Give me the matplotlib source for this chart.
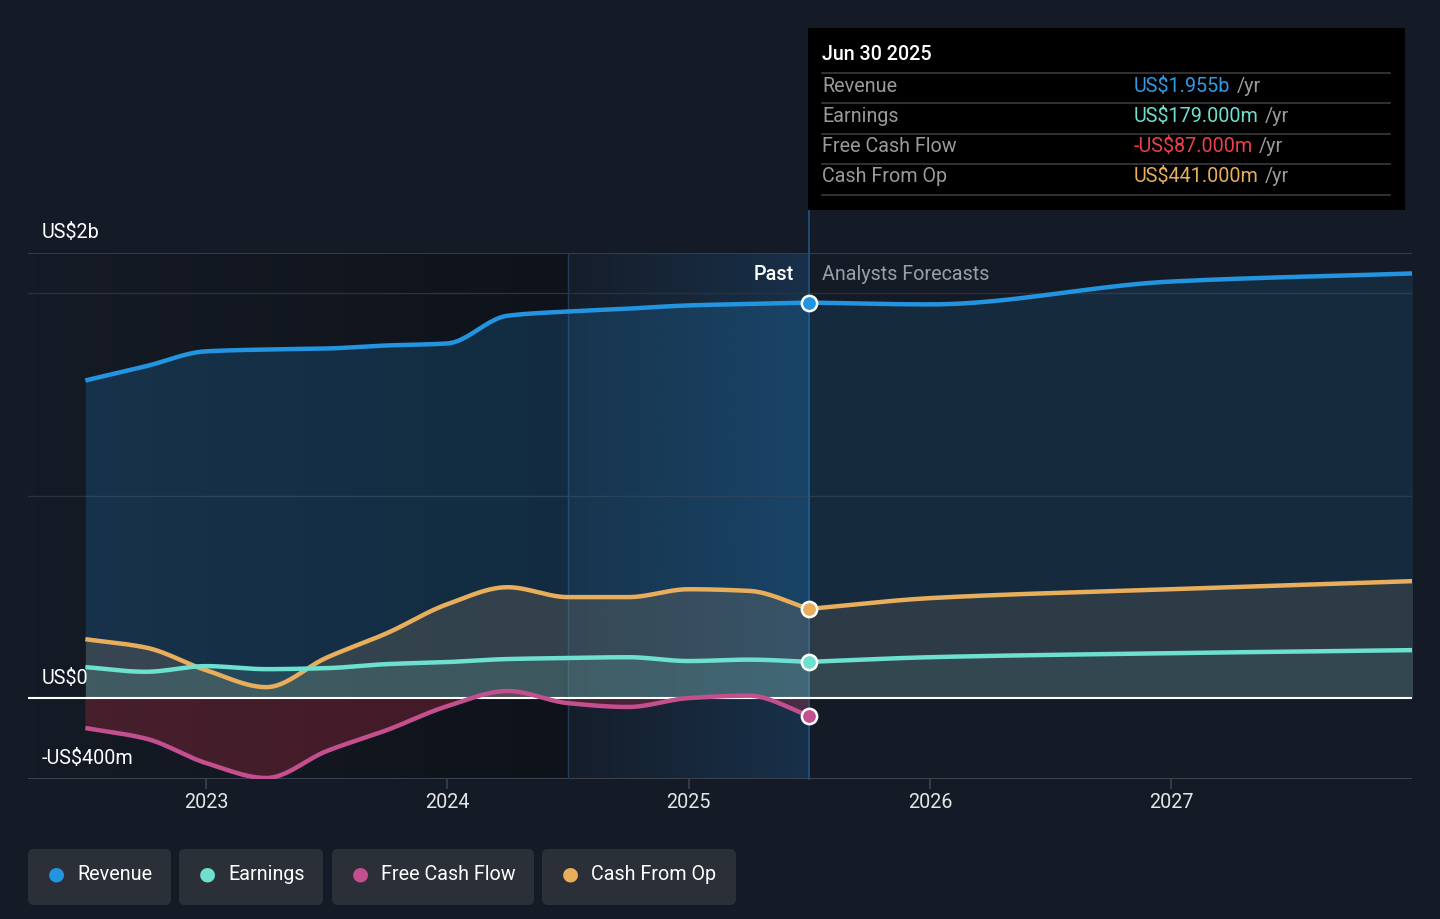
import numpy as np
import matplotlib.pyplot as plt
from matplotlib.patches import FancyBboxPatch, Rectangle
from matplotlib.lines import Line2D
from matplotlib.colors import to_rgb

plt.rcParams['font.family'] = ['Roboto', 'DejaVu Sans']

BG = '#151b26'
C_REV = '#2394df'
C_EARN = '#6ee0d0'
C_FCF = '#c44f8f'
C_CFO = '#e8ae5c'
FS = 14.2

# quarterly history (fractional year), values in US$m
past_t = [2022.5, 2022.75, 2023.0, 2023.25, 2023.5, 2023.75, 2024.0,
          2024.25, 2024.5, 2024.75, 2025.0, 2025.25, 2025.5]
revenue = [1570, 1640, 1714, 1723, 1728, 1743, 1753, 1890, 1911, 1925, 1941, 1948, 1955]
earnings = [153, 130, 158, 143, 148, 168, 178, 193, 198, 202, 183, 190, 179]
fcf = [-148, -200, -321, -395, -262, -158, -40, 35, -25, -44, 0, 12, -87]
cfo = [291, 250, 138, 54, 200, 321, 464, 548, 499, 499, 538, 530, 441]

# analyst forecasts
fc_t = [2025.5, 2026.0, 2027.0, 2028.0]
revenue_fc = [1955, 1946, 2059, 2099]
earnings_fc = [179, 202, 222, 237]
cfo_fc = [441, 494, 538, 578]

years = [2023, 2024, 2025, 2026, 2027]


def pchip(x, y, n=300):
    x = np.asarray(x, float)
    y = np.asarray(y, float)
    h = np.diff(x)
    d = np.diff(y) / h
    m = np.zeros_like(y)
    for i in range(1, len(y) - 1):
        if d[i - 1] * d[i] > 0:
            w1 = 2 * h[i] + h[i - 1]
            w2 = h[i] + 2 * h[i - 1]
            m[i] = (w1 + w2) / (w1 / d[i - 1] + w2 / d[i])
    m[0] = d[0]
    m[-1] = d[-1]
    xs = np.linspace(x[0], x[-1], n)
    idx = np.clip(np.searchsorted(x, xs) - 1, 0, len(h) - 1)
    t = (xs - x[idx]) / h[idx]
    h00 = 2 * t**3 - 3 * t**2 + 1
    h10 = t**3 - 2 * t**2 + t
    h01 = -2 * t**3 + 3 * t**2
    h11 = t**3 - t**2
    ys = h00 * y[idx] + h10 * h[idx] * m[idx] + h01 * y[idx + 1] + h11 * h[idx] * m[idx + 1]
    return xs, ys


def px(x, y):
    return x / 1440, 1 - y / 919


fig = plt.figure(figsize=(14.4, 9.19), dpi=100, facecolor=BG)
ax = fig.add_axes([28 / 1440, (919 - 779) / 919, 1384 / 1440, 526 / 919])
ax.set_facecolor(BG)
X0, X1 = 2022.2623, 2027.998
ax.set_xlim(X0, X1)
ax.set_ylim(-400, 2200)
for s in ax.spines.values():
    s.set_visible(False)

# darker past background and highlighted last year
g = np.zeros((1, 200, 4))
g[..., 3] = np.linspace(0.0, 0.32, 200)
ax.imshow(g, extent=[X0, 2024.5, -400, 2200], aspect='auto', zorder=0, interpolation='bicubic')
b = np.zeros((1, 200, 4))
b[..., :3] = to_rgb('#1d5f96')
b[..., 3] = np.linspace(0.04, 0.32, 200)
ax.imshow(b, extent=[2024.5, 2025.5, -400, 2200], aspect='auto', zorder=0, interpolation='bicubic')

# grid
for v in (1000, 2000):
    ax.axhline(v, color='#2b313c', lw=1, zorder=1)
ax.axhline(2200, color='#3c424c', lw=1.2, zorder=1)
ax.axhline(-400, color='#3c424c', lw=1.5, zorder=1)
ax.axvline(2024.5, color='#1f3b57', lw=1, zorder=1)
ax.plot([2025.5, 2025.5], [-400, 2412], color='#1f4e78', lw=1.3, zorder=1, clip_on=False)

# fills
xr, yr = pchip(past_t, revenue)
xrf, yrf = pchip(fc_t, revenue_fc)
ax.fill_between(xr, yr, 0, color=C_REV, alpha=0.2, lw=0, zorder=2)
ax.fill_between(xrf, yrf, 0, color=C_REV, alpha=0.13, lw=0, zorder=2)

xc, yc = pchip(past_t, cfo)
xcf, ycf = pchip(fc_t, cfo_fc)
ax.fill_between(xc, yc, 0, color='#a89070', alpha=0.22, lw=0, zorder=2)
ax.fill_between(xcf, ycf, 0, color='#8a8070', alpha=0.2, lw=0, zorder=2)

xe, ye = pchip(past_t, earnings)
xef, yef = pchip(fc_t, earnings_fc)
ax.fill_between(xe, ye, 0, color='#7ad8c8', alpha=0.15, lw=0, zorder=2)
ax.fill_between(xef, yef, 0, color='#7ad8c8', alpha=0.08, lw=0, zorder=2)

xf, yf = pchip(past_t, fcf)
ax.fill_between(xf, yf, 0, where=yf < 0, interpolate=True, color='#b02a40', alpha=0.32, lw=0, zorder=2)
ax.fill_between(xf, yf, 0, where=yf > 0, interpolate=True, color='#b02a40', alpha=0.2, lw=0, zorder=2)

ax.axhline(0, color='white', lw=1.5, zorder=3)

# lines
lw = 3.2
ax.plot(xr, yr, color=C_REV, lw=lw, zorder=4, solid_capstyle='butt')
ax.plot(xrf, yrf, color=C_REV, lw=lw, zorder=4)
ax.plot(xc, yc, color=C_CFO, lw=lw, zorder=4, solid_capstyle='butt')
ax.plot(xcf, ycf, color=C_CFO, lw=lw, zorder=4)
ax.plot(xe, ye, color=C_EARN, lw=lw, zorder=4, solid_capstyle='butt')
ax.plot(xef, yef, color=C_EARN, lw=lw, zorder=4)
ax.plot(xf, yf, color=C_FCF, lw=lw, zorder=4, solid_capstyle='butt')

for vals, c in ((revenue, C_REV), (cfo, C_CFO), (earnings, C_EARN), (fcf, C_FCF)):
    ax.plot(past_t[-1], vals[-1], 'o', ms=11, mfc=c, mec='white', mew=1.8, zorder=6, clip_on=False)

# x axis
ax.set_xticks(years)
ax.set_xticklabels([str(y) for y in years])
ax.set_yticks([])
ax.tick_params(axis='x', colors='#3c424c', length=7, width=1.2, labelcolor='#e6e6e6',
               labelsize=FS, pad=3)

# y labels
fig.text(*px(42, 232), 'US$2b', color='white', fontsize=FS, va='center', ha='left')
fig.text(*px(42, 678), 'US$0', color='white', fontsize=FS, va='center', ha='left')
fig.text(*px(42, 758), '-US$400m', color='white', fontsize=FS, va='center', ha='left')

fig.text(*px(794, 274), 'Past', color='white', fontsize=FS, fontweight='medium', va='center', ha='right')
fig.text(*px(822, 274), 'Analysts Forecasts', color='#9a9ea6', fontsize=FS, va='center', ha='left')

# tooltip
fig.patches.append(Rectangle(px(808, 210), 597 / 1440, 182 / 919, transform=fig.transFigure,
                             facecolor='black', edgecolor='none', zorder=5))
fig.text(*px(822, 55), 'Jun 30 2025', color='white', fontsize=FS, fontweight='medium',
         va='center', ha='left', zorder=6)
rows = [('Revenue', 'US$1.955b', '#2e9be6'),
        ('Earnings', 'US$179.000m', C_EARN),
        ('Free Cash Flow', '-US$87.000m', '#e8434a'),
        ('Cash From Op', 'US$441.000m', C_CFO)]
row_y = [86, 116, 147, 177]
for yline in (73, 103, 134, 164, 195):
    fig.add_artist(Line2D([822 / 1440, 1390 / 1440], [1 - yline / 919] * 2, color='#3a3a3a', lw=1.2, zorder=6))
for (lab, val, c), yy in zip(rows, row_y):
    fig.text(*px(822, yy), lab, color='#9a9a9a', fontsize=FS, va='center', ha='left', zorder=6)
    t = fig.text(*px(1134, yy), val, color=c, fontsize=FS, va='center', ha='left', zorder=6)
    fig.canvas.draw()
    bb = t.get_window_extent()
    fig.text(bb.x1 / 1440 + 6 / 1440, 1 - yy / 919, '/yr', color='#9a9a9a', fontsize=FS,
             va='center', ha='left', zorder=6)

# legend
legend = [('Revenue', C_REV, 28, 171), ('Earnings', C_EARN, 179, 323),
          ('Free Cash Flow', C_FCF, 332, 534), ('Cash From Op', C_CFO, 542, 736)]
for lab, c, x0, x1 in legend:
    fig.patches.append(FancyBboxPatch(px(x0, 905), (x1 - x0) / 1440, 56 / 919,
                                      boxstyle='round,pad=0,rounding_size=0.004',
                                      transform=fig.transFigure, facecolor='#2a2f38',
                                      edgecolor='none', mutation_aspect=1440 / 919))
    fig.text(*px(x0 + 28, 874), '\u25cf', color=c, fontsize=14, va='center', ha='center')
    fig.text(*px(x0 + 49, 874), lab, color='white', fontsize=FS, va='center', ha='left')

fig.savefig('out.png', dpi=100, facecolor=BG)
